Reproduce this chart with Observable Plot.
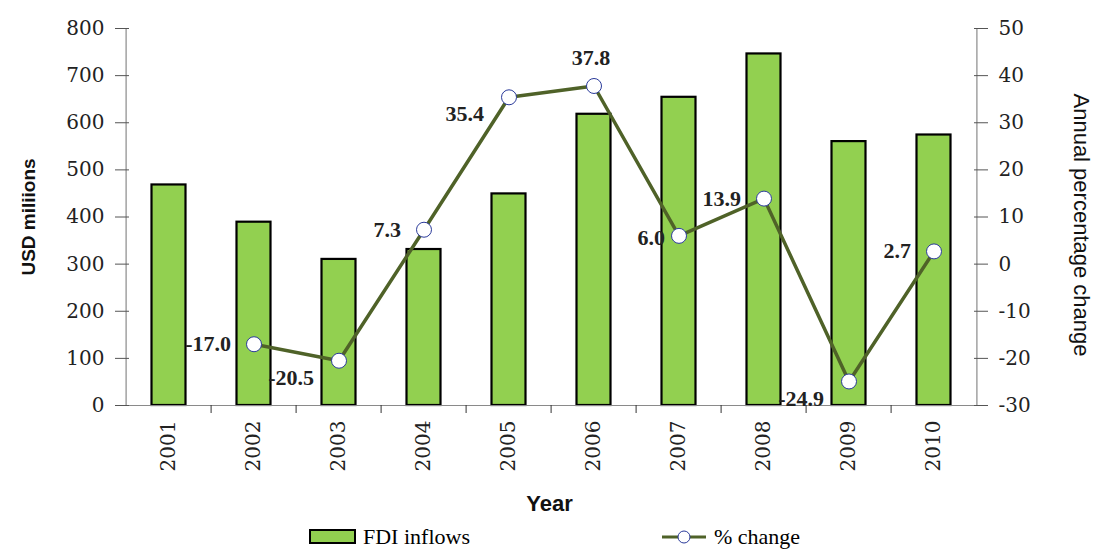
<!DOCTYPE html>
<html>
<head>
<meta charset="utf-8">
<script src="https://cdn.jsdelivr.net/npm/d3@7"></script>
<script src="https://cdn.jsdelivr.net/npm/@observablehq/plot@0.6"></script>
<style>
  body { margin: 0; background: #fff; }
  #chart svg { display: block; }
  #legend { position: relative; width: 1093px; height: 24px; font-family: "Liberation Serif", serif; font-size: 22px; color: #000; }
  #legend .item { position: absolute; top: 0; height: 24px; display: flex; align-items: center; }
  #legend svg { display: block; margin-right: 6px; }
</style>
</head>
<body>
<div id="chart"></div>
<div id="legend">
  <div class="item" style="left:309px">
    <svg width="48" height="16"><rect x="1" y="1" width="45" height="13" fill="#92d050" stroke="#000" stroke-width="2"></rect></svg>
    <span>FDI inflows</span>
  </div>
  <div class="item" style="left:662px">
    <svg width="46" height="16"><line x1="0" y1="8" x2="44" y2="8" stroke="#4f6228" stroke-width="3"></line><circle cx="22" cy="8" r="6" fill="#fff" stroke="#2a3a9a" stroke-width="1"></circle></svg>
    <span>% change</span>
  </div>
</div>
<script>
const years = ["2001","2002","2003","2004","2005","2006","2007","2008","2009","2010"];
const fdiInflows = [468, 389, 310, 331, 449, 618, 654, 746, 560, 574];
const pctChange = [null, -17.0, -20.5, 7.3, 35.4, 37.8, 6.0, 13.9, -24.9, 2.7];
const labelPlacement = [null, "left", "below", "left", "below", "above", "near", "left", "below", "left"];
const leftTicks = [0, 100, 200, 300, 400, 500, 600, 700, 800];
const rightTicks = [-30, -20, -10, 0, 10, 20, 30, 40, 50];

const W = 1093, H = 525, mL = 122, mR = 113, mT = 28, mB = 120;
const bw = (W - mL - mR) / years.length;
// map percentage onto the left (USD) scale: -30..50 -> 0..800
const pToY = p => (p + 30) * 10;

const data = years.map((year, i) => ({year, fdi: fdiInflows[i], pct: pctChange[i], place: labelPlacement[i]}));
const pts = data.filter(d => d.pct != null);

const serif = "DejaVu Serif, serif";
const labelFont = "Liberation Serif, serif";
const fmt = d => d.pct.toFixed(1);

const plot = Plot.plot({
  width: W, height: H,
  marginLeft: mL, marginRight: mR, marginTop: mT, marginBottom: mB,
  style: {background: "#fff", overflow: "visible"},
  x: {type: "band", domain: years, padding: 0, label: null},
  y: {domain: [0, 800], label: null},
  marks: [
    // bars
    Plot.barY(data, {x: "year", y: "fdi", fill: "#92d050", stroke: "#000", strokeWidth: 2.2, insetLeft: 25.5, insetRight: 25.5}),
    // axis lines
    Plot.ruleY([0], {stroke: "#8a8a8a", strokeWidth: 1.2}),
    Plot.ruleX([years[0]], {y1: 0, y2: 800, dx: -bw / 2, stroke: "#8a8a8a", strokeWidth: 1.2}),
    Plot.ruleX([years[years.length - 1]], {y1: 0, y2: 800, dx: bw / 2, stroke: "#8a8a8a", strokeWidth: 1.2}),
    // left axis (ticks crossing the line)
    Plot.axisY(leftTicks, {anchor: "left", tickSize: 14, dx: 7, tickFormat: () => "", stroke: "#555", label: null}),
    Plot.axisY(leftTicks, {anchor: "left", tickSize: 0, tickPadding: 18, fontFamily: serif, fontSize: 20, fill: "#222", label: null}),
    // right axis
    Plot.axisY(rightTicks.map(pToY), {anchor: "right", tickSize: 14, dx: -7, tickFormat: () => "", stroke: "#555", label: null}),
    Plot.axisY(rightTicks.map(pToY), {anchor: "right", tickSize: 0, tickPadding: 18, tickFormat: v => String(Math.round(v / 10 - 30)), fontFamily: serif, fontSize: 20, fill: "#222", label: null}),
    // x ticks at band boundaries
    Plot.axisX(years.slice(1), {anchor: "bottom", tickSize: 8, dx: -bw / 2, tickFormat: () => "", stroke: "#333", label: null}),
    // x labels
    Plot.axisX(years, {anchor: "bottom", tickSize: 0, tickPadding: 15, tickRotate: -90, fontFamily: serif, fontSize: 20, fill: "#222", label: null}),
    // line
    Plot.line(pts, {x: "year", y: d => pToY(d.pct), stroke: "#4f6228", strokeWidth: 3.5}),
    Plot.dot(pts, {x: "year", y: d => pToY(d.pct), r: 7.5, fill: "#fff", stroke: "#2a3a9a", strokeWidth: 1}),
    // data labels
    Plot.text(pts.filter(d => d.place === "left"), {x: "year", y: d => pToY(d.pct), text: fmt, textAnchor: "end", dx: -23, fontFamily: labelFont, fontWeight: "bold", fontSize: 22, fill: "#222"}),
    Plot.text(pts.filter(d => d.place === "near"), {x: "year", y: d => pToY(d.pct), text: fmt, textAnchor: "end", dx: -14, dy: 2, fontFamily: labelFont, fontWeight: "bold", fontSize: 22, fill: "#222"}),
    Plot.text(pts.filter(d => d.place === "below"), {x: "year", y: d => pToY(d.pct), text: fmt, textAnchor: "end", dx: -25, dy: 17, fontFamily: labelFont, fontWeight: "bold", fontSize: 22, fill: "#222"}),
    Plot.text(pts.filter(d => d.place === "above"), {x: "year", y: d => pToY(d.pct), text: fmt, textAnchor: "middle", dx: -3, dy: -28, fontFamily: labelFont, fontWeight: "bold", fontSize: 22, fill: "#222"}),
    // axis titles
    Plot.text(["USD miliions"], {frameAnchor: "left", textAnchor: "middle", dx: -94, rotate: -90, fontFamily: "Liberation Sans, sans-serif", fontWeight: "bold", fontSize: 19, fill: "#111"}),
    Plot.text(["Annual percentage change"], {frameAnchor: "right", textAnchor: "middle", dx: 101, dy: 8, rotate: 90, fontFamily: "Liberation Sans, sans-serif", fontSize: 22, fill: "#111"}),
    Plot.text(["Year"], {frameAnchor: "bottom", dx: -2, dy: 105, fontFamily: "Liberation Sans, sans-serif", fontWeight: "bold", fontSize: 22, fill: "#111"})
  ]
});
document.getElementById("chart").appendChild(plot);
</script>
</body>
</html>
